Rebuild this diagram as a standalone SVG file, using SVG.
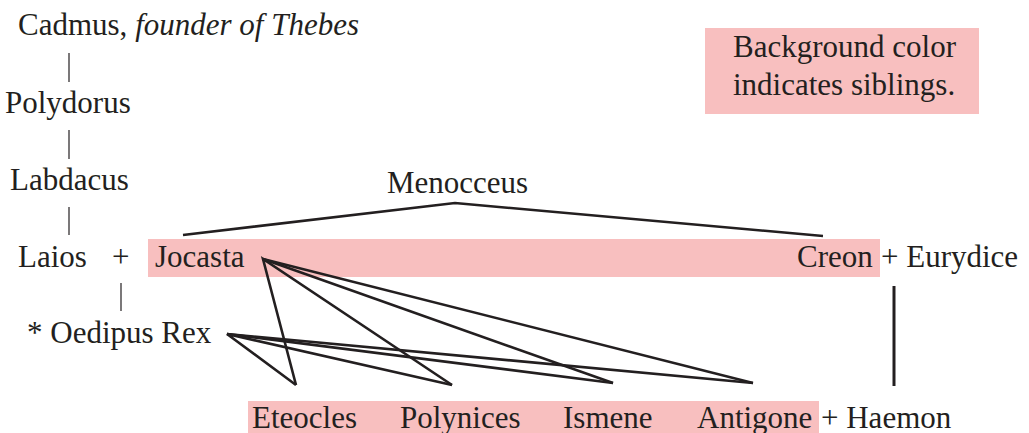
<svg xmlns="http://www.w3.org/2000/svg" width="1029" height="433" viewBox="0 0 1029 433">
<style>
text{font-size:31px;fill:#231f20}
.bg{fill:#f8bfbf}
.thin{stroke:#231f20;stroke-width:1.2;fill:none}
.link{stroke:#231f20;stroke-width:2.6;fill:none;stroke-linejoin:miter}
</style>
<rect width="1029" height="433" fill="#fff"/>
<g font-family="Liberation Serif, Times New Roman, serif">
<g id="legend">
<rect class="bg" x="705" y="28" width="274" height="86"/>
<text x="733" y="57">Background color</text>
<text x="733" y="95">indicates siblings.</text>
</g>
<rect class="bg" x="148" y="239" width="732" height="38"/>
<rect class="bg" x="248" y="401" width="571" height="32"/>
<g id="connectors">
<line class="thin" x1="69" y1="53" x2="69" y2="82"/>
<line class="thin" x1="69" y1="130" x2="69" y2="159"/>
<line class="thin" x1="69" y1="207" x2="69" y2="235"/>
<line class="thin" x1="121" y1="283" x2="121" y2="311"/>
<polyline class="link" points="183,235 455,203 823,236"/>
<line class="link" x1="894" y1="286" x2="894" y2="386" style="stroke-width:3"/>
<polyline class="link" points="296,385 263,259 452,385"/>
<polyline class="link" points="263,259 613,383"/>
<polyline class="link" points="263,259 753,383"/>
<polyline class="link" points="296,385 227,334 452,385"/>
<polyline class="link" points="227,334 613,383"/>
<polyline class="link" points="227,334 753,383"/>
</g>
<g id="cadmus"><text x="18" y="35">Cadmus, <tspan font-style="italic">founder of Thebes</tspan></text></g>
<g id="polydorus"><text x="5" y="113">Polydorus</text></g>
<g id="labdacus"><text x="10" y="190">Labdacus</text></g>
<g id="menocceus"><text x="387" y="193">Menocceus</text></g>
<g id="laios"><text x="18" y="267">Laios</text><text x="112" y="267">+</text></g>
<g id="jocasta"><text x="155" y="267">Jocasta</text></g>
<g id="creon"><text x="797" y="267">Creon</text></g>
<g id="eurydice"><text x="881" y="267">+ Eurydice</text></g>
<g id="oedipus"><text x="27" y="343">* Oedipus Rex</text></g>
<g id="eteocles"><text x="252" y="428">Eteocles</text></g>
<g id="polynices"><text x="400" y="428">Polynices</text></g>
<g id="ismene"><text x="563" y="428">Ismene</text></g>
<g id="antigone"><text x="697" y="428">Antigone</text></g>
<g id="haemon"><text x="821" y="428">+ Haemon</text></g>
</g>
</svg>
